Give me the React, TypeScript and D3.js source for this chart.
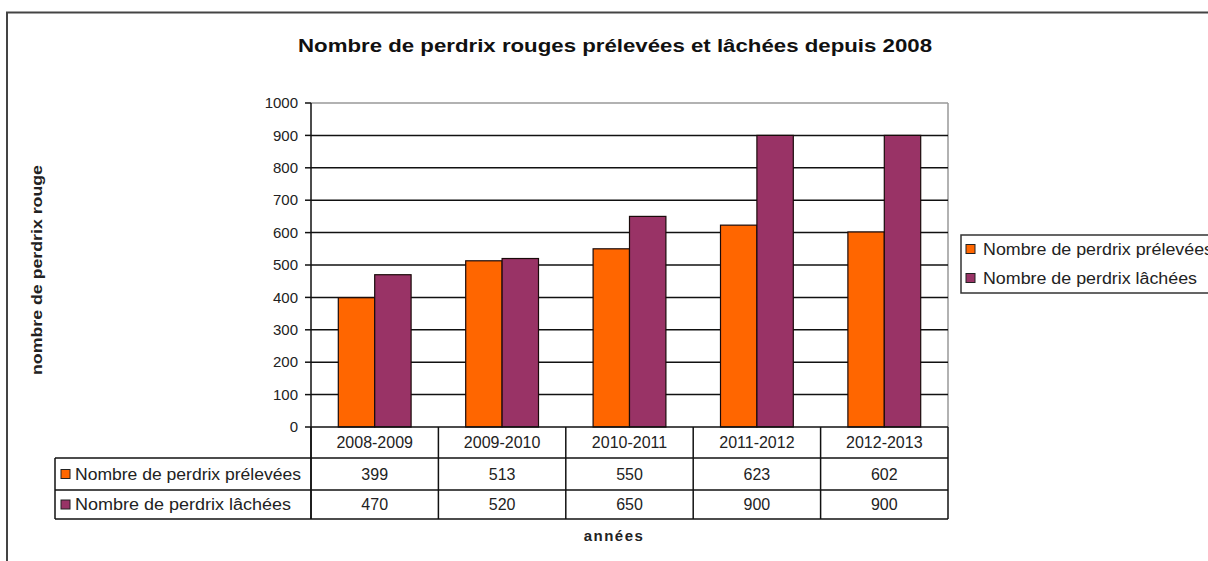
import React from 'react';
import * as d3 from 'd3';

// data
const categories = ['2008-2009', '2009-2010', '2010-2011', '2011-2012', '2012-2013'];
const seriesNames = ['Nombre de perdrix prélevées', 'Nombre de perdrix lâchées'];
const prelevees = [399, 513, 550, 623, 602];
const lachees = [470, 520, 650, 900, 900];
const yTicks = [0, 100, 200, 300, 400, 500, 600, 700, 800, 900, 1000];
const colors = ['#FF6600', '#993366'];

const W = 1208;
const H = 561;
const font = '"Liberation Sans", Arial, sans-serif';

const plot = { left: 311, right: 948, top: 103, bottom: 427 };
const table = { left: 55, headBottom: 458, row1Bottom: 490, bottom: 519 };

const App = () => {
  const values = [prelevees, lachees];

  const y = d3.scaleLinear().domain([0, 1000]).range([plot.bottom, plot.top]);
  const x = d3.scaleBand<string>().domain(categories).range([plot.left, plot.right]).padding(0);
  const inner = d3.scaleBand<number>()
    .domain([0, 1])
    .range([0, x.bandwidth()])
    .paddingInner(0)
    .paddingOuter(0.75);

  const colEdges = [plot.left, ...categories.map(c => (x(c) as number) + x.bandwidth())];
  const rowMid = [(table.headBottom + table.row1Bottom) / 2, (table.row1Bottom + table.bottom) / 2];
  const legendY = [249, 278];

  return (
    <svg width={W} height={H} style={{ position: 'absolute', left: 0, top: 0, background: '#fff' }}
      fontFamily={font}>
      {/* outer frame */}
      <rect x={7} y={12.5} width={W + 20} height={H + 20} fill="none" stroke="#444" strokeWidth={2} />

      {/* title */}
      <text x={615} y={52} textAnchor="middle" fontSize={18} fontWeight="bold" fill="#111"
        textLength={634} lengthAdjust="spacingAndGlyphs">
        Nombre de perdrix rouges prélevées et lâchées depuis 2008
      </text>

      {/* plot area border (top/right) */}
      <line x1={plot.left} x2={plot.right} y1={plot.top} y2={plot.top} stroke="#999" strokeWidth={1.5} />
      <line x1={plot.right} x2={plot.right} y1={plot.top} y2={plot.bottom} stroke="#999" strokeWidth={1.5} />

      {/* gridlines */}
      {yTicks.filter(t => t > 0 && t < 1000).map(t => (
        <line key={t} x1={plot.left} x2={plot.right} y1={y(t)} y2={y(t)} stroke="#111" strokeWidth={1.5} />
      ))}

      {/* bars */}
      {categories.map((c, i) => (
        <g key={c} transform={`translate(${x(c)},0)`}>
          {values.map((s, j) => (
            <rect key={j} x={inner(j)} y={y(s[i])} width={inner.bandwidth()} height={plot.bottom - y(s[i])}
              fill={colors[j]} stroke="#1a0a0a" strokeWidth={1.2} />
          ))}
        </g>
      ))}

      {/* y axis */}
      <line x1={plot.left} x2={plot.left} y1={plot.top} y2={table.bottom} stroke="#111" strokeWidth={1.5} />
      {yTicks.map(t => (
        <g key={t}>
          <line x1={plot.left - 6} x2={plot.left} y1={y(t)} y2={y(t)} stroke="#111" strokeWidth={1.5} />
          <text x={plot.left - 13} y={y(t)} dy="0.35em" textAnchor="end" fontSize={15} fill="#222">{t}</text>
        </g>
      ))}

      {/* x axis / data table */}
      <line x1={plot.left} x2={plot.right} y1={plot.bottom} y2={plot.bottom} stroke="#111" strokeWidth={1.5} />
      {colEdges.map((cx, i) => (
        <line key={i} x1={cx} x2={cx} y1={plot.bottom} y2={table.bottom} stroke="#111" strokeWidth={1.5} />
      ))}
      <line x1={table.left} x2={table.left} y1={table.headBottom} y2={table.bottom} stroke="#111" strokeWidth={1.5} />
      {[table.headBottom, table.row1Bottom, table.bottom].map(ry => (
        <line key={ry} x1={table.left} x2={plot.right} y1={ry} y2={ry} stroke="#111" strokeWidth={1.5} />
      ))}
      {categories.map(c => (
        <text key={c} x={(x(c) as number) + x.bandwidth() / 2} y={(plot.bottom + table.headBottom) / 2}
          dy="0.35em" textAnchor="middle" fontSize={16} fill="#222">{c}</text>
      ))}
      {seriesNames.map((name, j) => (
        <g key={name}>
          <rect x={61} y={rowMid[j] - 4.5} width={9} height={9} fill={colors[j]} stroke="#222" strokeWidth={1} />
          <text x={75} y={rowMid[j]} dy="0.35em" fontSize={16} fill="#222"
            textLength={j === 0 ? 226 : 216} lengthAdjust="spacingAndGlyphs">{name}</text>
          {values[j].map((v, i) => (
            <text key={i} x={(x(categories[i]) as number) + x.bandwidth() / 2} y={rowMid[j]} dy="0.35em"
              textAnchor="middle" fontSize={16} fill="#222">{v}</text>
          ))}
        </g>
      ))}

      {/* axis titles */}
      <text transform="translate(42,270) rotate(-90)" textAnchor="middle" fontSize={14} fontWeight="bold"
        fill="#222" textLength={210} lengthAdjust="spacingAndGlyphs">nombre de perdrix rouge</text>
      <text x={614} y={541} textAnchor="middle" fontSize={15} fontWeight="bold" fill="#222"
        letterSpacing={1.5}>années</text>

      {/* legend */}
      <rect x={961} y={235} width={270} height={58} fill="#fff" stroke="#333" strokeWidth={1.5} />
      {seriesNames.map((name, j) => (
        <g key={name}>
          <rect x={966} y={legendY[j] - 4.5} width={9} height={9} fill={colors[j]} stroke="#222" strokeWidth={1} />
          <text x={983} y={legendY[j]} dy="0.35em" fontSize={16} fill="#222"
            textLength={j === 0 ? 230 : 214} lengthAdjust="spacingAndGlyphs">{name}</text>
        </g>
      ))}
    </svg>
  );
};

export default App;
